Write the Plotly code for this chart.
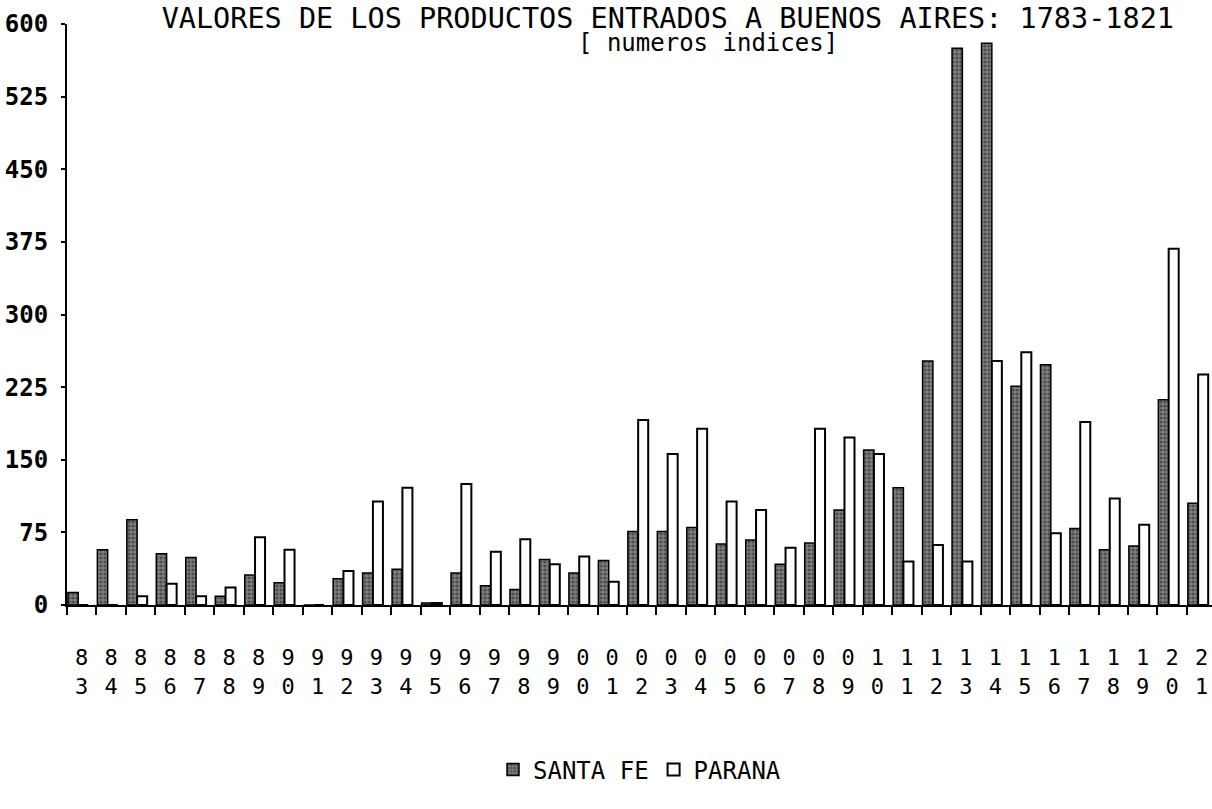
import plotly.graph_objects as go

years = list(range(1783, 1822))
tick_labels = ["8<br>3", "8<br>4", "8<br>5", "8<br>6", "8<br>7", "8<br>8", "8<br>9",
               "9<br>0", "9<br>1", "9<br>2", "9<br>3", "9<br>4", "9<br>5", "9<br>6",
               "9<br>7", "9<br>8", "9<br>9", "0<br>0", "0<br>1", "0<br>2", "0<br>3",
               "0<br>4", "0<br>5", "0<br>6", "0<br>7", "0<br>8", "0<br>9", "1<br>0",
               "1<br>1", "1<br>2", "1<br>3", "1<br>4", "1<br>5", "1<br>6", "1<br>7",
               "1<br>8", "1<br>9", "2<br>0", "2<br>1"]
santa_fe = [13, 57, 88, 53, 49, 9, 31, 23, 0, 27, 33, 37, 2, 33, 20, 16, 47, 33, 46,
            76, 76, 80, 63, 67, 42, 64, 98, 160, 121, 252, 575, 580, 226, 248, 79, 57,
            61, 212, 105]
parana = [0, 0, 9, 22, 9, 18, 70, 57, 0, 35, 107, 121, 2, 125, 55, 68, 42, 50, 24,
          191, 156, 182, 107, 98, 59, 182, 173, 156, 45, 62, 45, 252, 261, 74, 189, 110,
          83, 368, 238]
y_ticks = [0, 75, 150, 225, 300, 375, 450, 525, 600]

cats = [str(y) for y in years]
FONT = "DejaVu Sans Mono"

fig = go.Figure()
fig.add_trace(go.Bar(
    x=cats, y=santa_fe, name="SANTA FE",
    width=0.35, offset=-0.47,
    marker=dict(color="#6e6e6e", line=dict(color="black", width=1.5),
                pattern=dict(shape=".", fgcolor="#1a1a1a", bgcolor="#808080",
                             size=4, solidity=0.5)),
))
fig.add_trace(go.Bar(
    x=cats, y=parana, name="PARANA",
    width=0.34, offset=-0.12,
    marker=dict(color="white", line=dict(color="black", width=2)),
))

fig.update_layout(
    width=1212, height=809,
    margin=dict(l=67, r=0, t=24, b=204),
    paper_bgcolor="white", plot_bgcolor="white",
    barmode="overlay",
    font=dict(family=FONT, color="black"),
    title=dict(text="VALORES DE LOS PRODUCTOS ENTRADOS A BUENOS AIRES: 1783-1821",
               font=dict(family=FONT, size=28.5, color="black"),
               x=0.551, xanchor="center", xref="container",
               y=1 - 18 / 809, yanchor="middle", yref="container"),
    annotations=[dict(text="[ numeros indices]", xref="paper", yref="paper",
                      x=0.56, y=0.968, xanchor="center", yanchor="middle",
                      showarrow=False, font=dict(family=FONT, size=24, color="black"))],
    legend=dict(orientation="h", x=0.5, xanchor="center", y=-0.284, yanchor="middle",
                font=dict(family=FONT, size=24, color="black"), itemwidth=30,
                bgcolor="rgba(0,0,0,0)"),
    showlegend=True,
)
fig.update_xaxes(
    type="category", range=[-0.5, 38.35], automargin=False,
    tickmode="array", tickvals=cats, ticktext=tick_labels,
    tickson="boundaries", ticks="outside", ticklen=8, tickwidth=1.5, tickcolor="black",
    showline=True, linecolor="black", linewidth=2, showgrid=False, zeroline=False,
    tickangle=0, ticklabelstandoff=32,
    tickfont=dict(family=FONT, size=22, color="black"),
)
fig.update_yaxes(
    range=[0, 600], tickmode="array", tickvals=y_ticks, automargin=False,
    ticks="outside", ticklen=4, tickwidth=1.5, tickcolor="black",
    showline=True, linecolor="black", linewidth=2, showgrid=False, zeroline=False,
    ticklabelstandoff=8,
    tickfont=dict(family=FONT, size=24, color="black", weight="bold"),
)

fig.write_html("out.html", config={"displayModeBar": False},
               post_script="document.body.style.margin='0px';")
